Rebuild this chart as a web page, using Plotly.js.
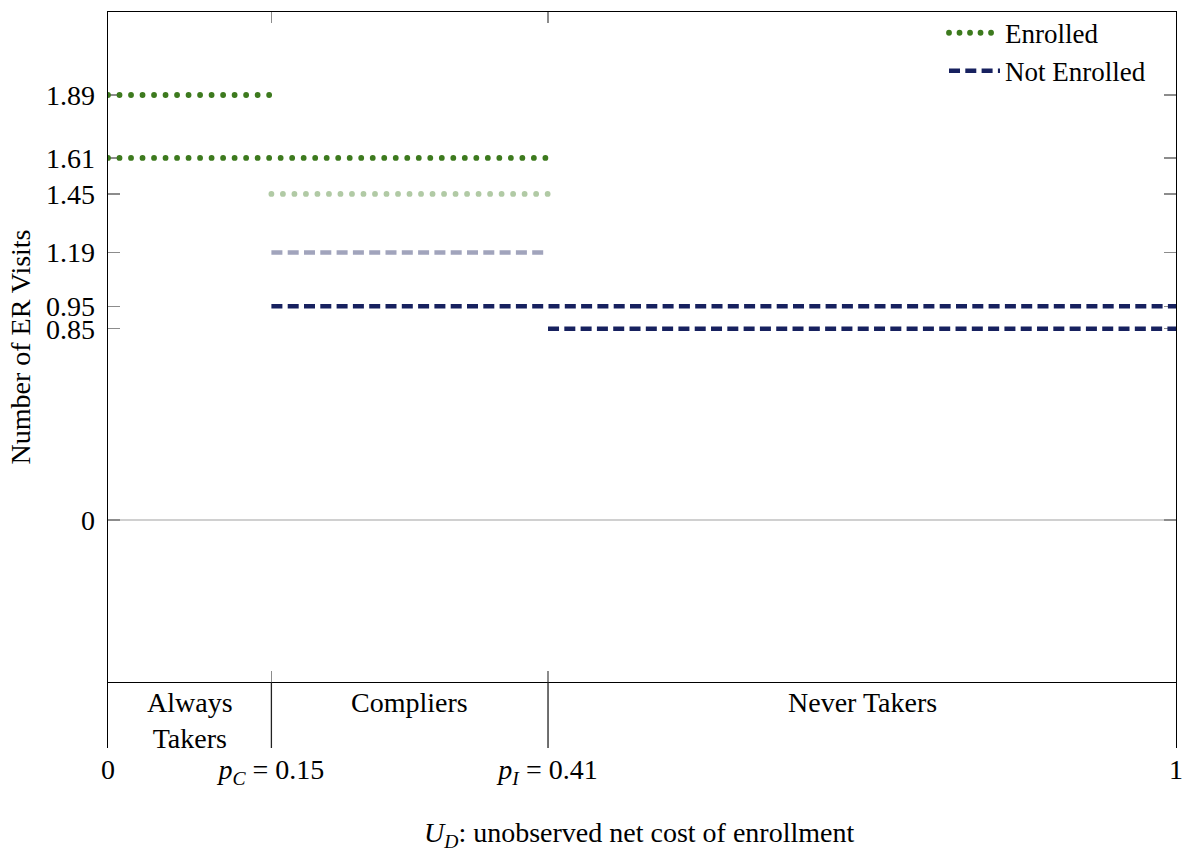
<!DOCTYPE html>
<html><head><meta charset="utf-8">
<script src="https://cdn.plot.ly/plotly-3.0.1.min.js"></script>
<style>body{margin:0;background:#fff}</style>
</head><body><div id="chart" style="width:1184px;height:850px"></div>
<script>
// ---- data ----
const groupBounds = [0, 0.153, 0.412, 1];
const groupNames = ['Always<br>Takers', 'Compliers', 'Never Takers'];
const boundaryTickText = ['0', '<i>p</i><sub><i>C</i></sub> = 0.15', '<i>p</i><sub><i>I</i></sub> = 0.41', '1'];
const xTitle = '<i>U</i><sub><i>D</i></sub>: unobserved net cost of enrollment';
const yTitle = 'Number of ER Visits';

const segStatus = ['Enrolled', 'Enrolled', 'Enrolled', 'Not Enrolled', 'Not Enrolled', 'Not Enrolled'];
const segStart  = [0, 0, 0.153, 0.153, 0.153, 0.412];
const segEnd    = [0.153, 0.412, 0.412, 0.412, 1, 1];
const segValue  = [1.89, 1.61, 1.45, 1.19, 0.95, 0.85];
const segFaded  = [false, false, true, true, false, false];

const yTickVals = [0, 0.85, 0.95, 1.19, 1.45, 1.61, 1.89];
const yTickText = ['0', '0.85', '0.95', '1.19', '1.45', '1.61', '1.89'];

// ---- styles ----
const GREEN = 'rgb(61,122,30)', GREEN_FADED = 'rgb(177,202,165)';
const NAVY = 'rgb(23,33,95)', NAVY_FADED = 'rgb(161,164,188)';
const FONT = '"Liberation Serif", "Times New Roman", serif';
const TICKC = '#8c8c8c';
const bandFrac = 66 / 736;

const seen = {};
const traces = segValue.map((v, i) => {
  const enrolled = segStatus[i] === 'Enrolled';
  const show = !segFaded[i] && !seen[segStatus[i]];
  if (show) seen[segStatus[i]] = true;
  return {
    type: 'scatter', mode: 'lines', name: segStatus[i], legendgroup: segStatus[i],
    showlegend: show, hoverinfo: 'skip',
    x: [segStart[i], segEnd[i]], y: [v, v], xaxis: 'x', yaxis: 'y',
    line: {
      color: enrolled ? (segFaded[i] ? GREEN_FADED : GREEN) : (segFaded[i] ? NAVY_FADED : NAVY),
      width: enrolled ? 5.8 : 4.5,
      dash: enrolled ? '5px,6.5px' : '11px,5.3px'
    }
  };
});
traces.push({type: 'scatter', mode: 'lines', x: [], y: [], xaxis: 'x2', yaxis: 'y2', showlegend: false, hoverinfo: 'skip'});

const shapes = groupBounds.slice(1, -1).map(b => ({
  type: 'line', xref: 'x2', yref: 'y2 domain', x0: b, x1: b, y0: 0, y1: 1,
  line: {color: '#222', width: 1.3}
}));

const annotations = groupNames.map((t, i) => ({
  text: t, xref: 'x2', yref: 'y2 domain', x: (groupBounds[i] + groupBounds[i + 1]) / 2, y: 1,
  yanchor: 'top', xanchor: 'center', showarrow: false, yshift: -3,
  font: {family: FONT, size: 28, color: '#000'}
}));
annotations.push({
  text: xTitle, xref: 'paper', yref: 'paper', x: 0.5, y: 0, xanchor: 'center', yanchor: 'middle',
  yshift: -86, xshift: -3, showarrow: false, font: {family: FONT, size: 28, color: '#000'}
});

const layout = {
  width: 1184, height: 850,
  margin: {l: 108, r: 8, t: 12, b: 102},
  paper_bgcolor: '#fff', plot_bgcolor: '#fff',
  font: {family: FONT, size: 28, color: '#000'},
  showlegend: true,
  legend: {x: 1 - 25 / 1068, xanchor: 'right', y: 1 + 3 / 670, yanchor: 'top', bgcolor: 'rgba(0,0,0,0)',
           itemwidth: 51, tracegroupgap: 0, font: {family: FONT, size: 27}},
  xaxis: {domain: [0, 1], range: [0, 1], anchor: 'y', tickmode: 'array', tickvals: groupBounds,
          showticklabels: false, ticks: 'inside', ticklen: 11, tickcolor: TICKC, tickwidth: 1.2,
          showline: true, linecolor: '#000', linewidth: 1.3, mirror: 'ticks', layer: 'below traces',
          showgrid: false, zeroline: false, fixedrange: true},
  yaxis: {domain: [bandFrac, 1], range: [-0.7204, 2.259], anchor: 'x', tickmode: 'array',
          tickvals: yTickVals, ticktext: yTickText, ticks: 'inside', ticklen: 12, tickcolor: TICKC,
          tickwidth: 1.2, showline: true, linecolor: '#000', linewidth: 1.3, mirror: 'ticks',
          layer: 'below traces',
          showgrid: false, zeroline: true, zerolinecolor: '#d0d0d0', zerolinewidth: 1.5,
          ticklabelstandoff: 6, tickfont: {size: 28},
          title: {text: yTitle, standoff: 7, font: {size: 28}}, fixedrange: true},
  xaxis2: {domain: [0, 1], range: [0, 1], anchor: 'y2', tickmode: 'array', tickvals: groupBounds,
           ticktext: boundaryTickText, ticks: '', showline: false, showgrid: false, zeroline: false,
           tickfont: {size: 28}, ticklabelstandoff: 2, fixedrange: true},
  yaxis2: {domain: [0, bandFrac], range: [0, 1], anchor: 'x2', showline: true, mirror: true,
           linecolor: '#000', linewidth: 1.3, showticklabels: false, ticks: '', showgrid: false,
           zeroline: false, fixedrange: true},
  shapes: shapes,
  annotations: annotations
};

function roundDots() {
  const gd = document.getElementById('chart');
  const tr = gd.querySelectorAll('.scatterlayer .trace');
  tr.forEach((g, i) => {
    if (segStatus[i] === 'Enrolled') {
      g.querySelectorAll('path.js-line').forEach(p => {
        p.style.strokeLinecap = 'round';
        p.style.strokeDasharray = '0.01px,11.5px';
      });
    }
  });
  const lt = gd.querySelectorAll('.legend .traces');
  lt.forEach(g => {
    const txt = g.textContent;
    if (txt.indexOf('Not') === -1) {
      g.querySelectorAll('.legendlines path').forEach(p => {
        p.style.strokeLinecap = 'round';
        p.style.strokeDasharray = '0.01px,10.5px';
      });
    }
  });
}

Plotly.newPlot('chart', traces, layout, {displayModeBar: false, staticPlot: true}).then(roundDots);
</script>
</body></html>
